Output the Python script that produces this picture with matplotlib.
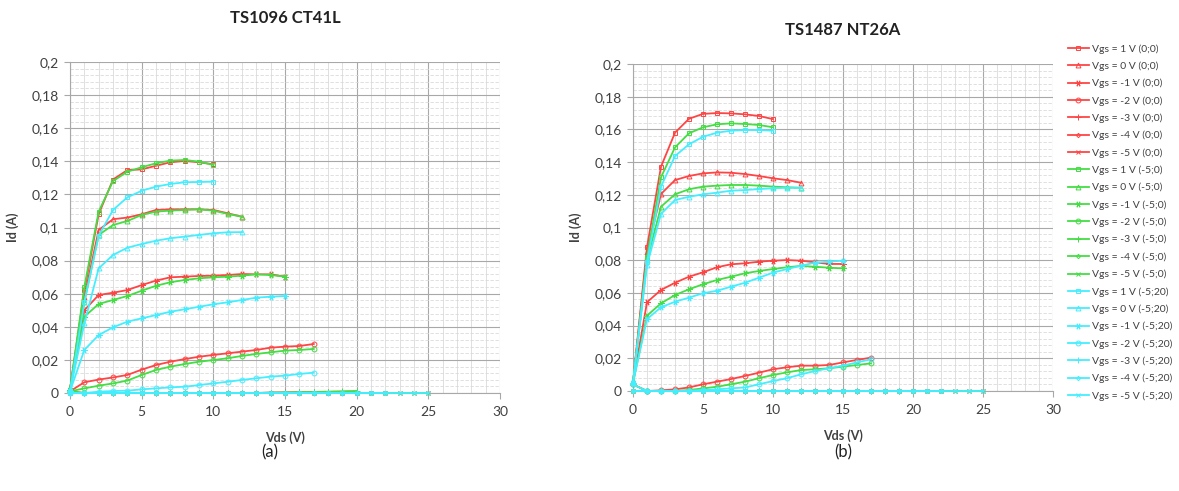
#!/usr/bin/env python3
"""
Output characteristics Id(Vds) of two transistors (TS1096 CT41L, TS1487 NT26A)
for Vgs = 1 .. -5 V under three stress conditions.
"""

import matplotlib
matplotlib.use('Agg')
import matplotlib.pyplot as plt
from matplotlib.ticker import MultipleLocator, FuncFormatter

plt.rcParams['font.family'] = ['Lato', 'DejaVu Sans']

# ---------------------------------------------------------------- data
vgs_values = [1, 0, -1, -2, -3, -4, -5]
conditions = ['(0;0)', '(-5;0)', '(-5;20)']
vds_sweep = [0, 1, 2, 3, 4, 5, 6, 7, 8, 9, 10, 11, 12,
             13, 14, 15, 16, 17, 18, 19, 20, 21, 22, 23, 24, 25]

# channels that stay off: Id reads 0 A over the whole sweep
zero_to_20 = [0, 0, 0, 0, 0, 0, 0, 0, 0, 0, 0, 0, 0, 0, 0, 0, 0, 0, 0, 0, 0]
zero_to_22 = [0, 0, 0, 0, 0, 0, 0, 0, 0, 0, 0, 0, 0, 0, 0, 0, 0, 0, 0, 0, 0,
              0, 0]
zero_to_25 = [0, 0, 0, 0, 0, 0, 0, 0, 0, 0, 0, 0, 0, 0, 0, 0, 0, 0, 0, 0, 0,
              0, 0, 0, 0, 0]

# TS1096 CT41L  (a)
ct41l_red_p1 = [0.002, 0.062, 0.108, 0.129, 0.1347, 0.1351, 0.1373, 0.1394,
                0.1402, 0.1394, 0.1382]
ct41l_red_0 = [0.002, 0.058, 0.0985, 0.105, 0.106, 0.108, 0.1106, 0.111,
               0.111, 0.111, 0.1106, 0.1086, 0.1065]
ct41l_red_m1 = [0.002, 0.050, 0.0592, 0.0606, 0.0622, 0.0652, 0.0679, 0.0699,
                0.0703, 0.0707, 0.0709, 0.0713, 0.0719, 0.0717, 0.0717, 0.0703]
ct41l_red_m2 = [0.001, 0.0065, 0.0081, 0.0094, 0.0109, 0.0141, 0.0169, 0.0189,
                0.0205, 0.0219, 0.023, 0.024, 0.025, 0.026, 0.0274, 0.028,
                0.0284, 0.0296]
ct41l_red_m3 = [0.001, 0, 0, 0, 0, 0, 0, 0, 0, 0, 0, 0, 0, 0, 0.0003, 0.0004,
                0.0005, 0.0006, 0.0007, 0.0008, 0.0009]

ct41l_grn_p1 = [0.002, 0.064, 0.1096, 0.128, 0.1337, 0.1364, 0.1388, 0.1404,
                0.1408, 0.1398, 0.1378]
ct41l_grn_0 = [0.002, 0.055, 0.0955, 0.1015, 0.1039, 0.1076, 0.1096, 0.1102,
               0.1106, 0.111, 0.1102, 0.1082, 0.1065]
ct41l_grn_m1 = [0.002, 0.0461, 0.0538, 0.0562, 0.0586, 0.0618, 0.0648, 0.0669,
                0.0683, 0.0693, 0.0699, 0.0703, 0.0709, 0.0717, 0.0713, 0.0703]
ct41l_grn_m2 = [0.001, 0.0028, 0.0044, 0.0058, 0.0075, 0.0109, 0.0139, 0.0159,
                0.0175, 0.0189, 0.0199, 0.021, 0.0224, 0.0236, 0.0246, 0.0256,
                0.026, 0.0266]
ct41l_grn_m3 = [0.001, 0, 0, 0, 0, 0, 0, 0, 0, 0, 0, 0, 0, 0, 0.0002, 0.0003,
                0.0005, 0.0006, 0.0008, 0.001, 0.0012]

ct41l_cyn_p1 = [0.001, 0.055, 0.095, 0.1106, 0.1182, 0.1222, 0.1247, 0.1263,
                0.1273, 0.1275, 0.1277]
ct41l_cyn_0 = [0.001, 0.042, 0.0753, 0.0834, 0.0878, 0.090, 0.092, 0.0935,
               0.0945, 0.0955, 0.0965, 0.0971, 0.0972]
ct41l_cyn_m1 = [0.001, 0.026, 0.035, 0.0397, 0.0431, 0.0451, 0.0471, 0.0491,
                0.0506, 0.0521, 0.0536, 0.0548, 0.0562, 0.0576, 0.0582, 0.0586]
ct41l_cyn_m2 = [0.0, 0.0, 0.0008, 0.0012, 0.0014, 0.0022, 0.0028, 0.0034,
                0.0038, 0.0048, 0.0058, 0.0068, 0.0079, 0.0089, 0.0099, 0.0105,
                0.0115, 0.0123]

# TS1487 NT26A  (b)
nt26a_red_p1 = [0.005, 0.088, 0.1372, 0.158, 0.1665, 0.1695, 0.1700, 0.1698,
                0.1692, 0.1682, 0.1663]
nt26a_red_0 = [0.005, 0.085, 0.1205, 0.129, 0.1315, 0.1331, 0.1337, 0.1335,
               0.1327, 0.1315, 0.1301, 0.129, 0.1274]
nt26a_red_m1 = [0.005, 0.0543, 0.0618, 0.0662, 0.0699, 0.0726, 0.0757, 0.0775,
                0.0781, 0.0791, 0.0797, 0.0801, 0.0797, 0.0787, 0.0777, 0.0777]
nt26a_red_m2 = [0.004, 0.0, 0.0004, 0.001, 0.0022, 0.0041, 0.0057, 0.0073,
                0.0092, 0.0112, 0.0133, 0.0145, 0.0155, 0.0155, 0.0159, 0.0175,
                0.019, 0.0204]

nt26a_grn_p1 = [0.005, 0.082, 0.1307, 0.149, 0.1576, 0.1613, 0.1631, 0.1637,
                0.1633, 0.1627, 0.1613]
nt26a_grn_0 = [0.005, 0.080, 0.1127, 0.1203, 0.1234, 0.125, 0.1256, 0.126,
               0.126, 0.1256, 0.125, 0.1246, 0.1243]
nt26a_grn_m1 = [0.005, 0.0461, 0.0536, 0.0587, 0.0622, 0.0653, 0.0679, 0.0699,
                0.072, 0.0734, 0.0746, 0.0757, 0.0765, 0.076, 0.0754, 0.075]
nt26a_grn_m2 = [0.004, 0.0, 0.0, 0.0, 0.0006, 0.0016, 0.0026, 0.0041, 0.0057,
                0.0078, 0.0098, 0.0114, 0.0128, 0.0133, 0.0139, 0.0149, 0.0159,
                0.0169]

nt26a_cyn_p1 = [0.005, 0.079, 0.125, 0.1437, 0.1509, 0.1555, 0.158, 0.1592,
                0.1596, 0.1596, 0.1592]
nt26a_cyn_0 = [0.005, 0.077, 0.1083, 0.1168, 0.1188, 0.1203, 0.1213, 0.1225,
               0.1229, 0.1235, 0.124, 0.1243, 0.1243]
nt26a_cyn_m1 = [0.005, 0.044, 0.0512, 0.0546, 0.0571, 0.0598, 0.0613, 0.0638,
                0.0662, 0.0693, 0.0724, 0.0746, 0.0766, 0.0785, 0.0791, 0.0797]
nt26a_cyn_m2 = [0.004, 0.0, 0.0, 0.0, 0.0002, 0.0006, 0.001, 0.0016, 0.0022,
                0.0041, 0.0061, 0.0078, 0.0102, 0.0122, 0.0139, 0.0155, 0.0175,
                0.0194]

# series in legend order: condition by condition, Vgs = 1 .. -5
ct41l_series = [
    ct41l_red_p1, ct41l_red_0, ct41l_red_m1, ct41l_red_m2, ct41l_red_m3,
    zero_to_22, zero_to_25,
    ct41l_grn_p1, ct41l_grn_0, ct41l_grn_m1, ct41l_grn_m2, ct41l_grn_m3,
    zero_to_22, zero_to_25,
    ct41l_cyn_p1, ct41l_cyn_0, ct41l_cyn_m1, ct41l_cyn_m2, zero_to_20,
    zero_to_22, zero_to_25,
]
nt26a_series = [
    nt26a_red_p1, nt26a_red_0, nt26a_red_m1, nt26a_red_m2, zero_to_20,
    zero_to_22, zero_to_25,
    nt26a_grn_p1, nt26a_grn_0, nt26a_grn_m1, nt26a_grn_m2, zero_to_20,
    zero_to_22, zero_to_25,
    nt26a_cyn_p1, nt26a_cyn_0, nt26a_cyn_m1, nt26a_cyn_m2, zero_to_20,
    zero_to_22, zero_to_25,
]

# ---------------------------------------------------------------- style
cond_colors = ['#ff4444', '#44dd44', '#44eeff']
vgs_markers = ['s', '^', (6, 2, 90), 'o', '+', 'D', 'x']
marker_sizes = [3.5, 3.5, 4.5, 3.5, 4.5, 2.2, 3.5]
text_col = '#404040'


def comma_fmt(v, pos):
    return f"{round(v, 3):g}".replace('.', ',')


def setup_axes(ax):
    ax.set_xlim(0, 30)
    ax.set_ylim(0, 0.2)
    ax.xaxis.set_major_locator(MultipleLocator(5))
    ax.xaxis.set_minor_locator(MultipleLocator(1))
    ax.yaxis.set_major_locator(MultipleLocator(0.02))
    ax.yaxis.set_minor_locator(MultipleLocator(0.004))
    ax.yaxis.set_major_formatter(FuncFormatter(comma_fmt))
    ax.grid(which='major', color='#a8a8a8', lw=0.8)
    ax.xaxis.grid(which='minor', color='#dadada', lw=0.6)
    ax.yaxis.grid(which='minor', color='#dadada', lw=0.6, ls=(0, (4, 2)))
    ax.set_axisbelow(True)
    for side in ['top', 'right']:
        ax.spines[side].set_visible(False)
    for side in ['left', 'bottom']:
        ax.spines[side].set_color('#a8a8a8')
        ax.spines[side].set_linewidth(0.8)
    ax.tick_params(which='major', length=4, color='#a8a8a8',
                   labelsize=10, labelcolor=text_col)
    ax.tick_params(axis='x', which='major', pad=5)
    ax.tick_params(axis='y', which='major', pad=4)
    ax.tick_params(which='minor', length=0)
    ax.set_xlabel('Vds (V)', fontsize=9, fontweight='bold', color=text_col,
                  labelpad=10)
    ax.set_ylabel('Id (A)', fontsize=9, fontweight='bold', color=text_col,
                  labelpad=9)


def draw_family(ax, series):
    handles = []
    for i, ids in enumerate(series):
        ci, vi = divmod(i, len(vgs_values))
        label = f"Vgs = {vgs_values[vi]} V {conditions[ci]}"
        h, = ax.plot(vds_sweep[:len(ids)], ids, color=cond_colors[ci],
                     lw=1.3, marker=vgs_markers[vi], ms=marker_sizes[vi],
                     mfc='none', mew=0.7, label=label, clip_on=False,
                     zorder=3 + ci)
        handles.append(h)
    return handles


fig = plt.figure(figsize=(11.79, 4.91), dpi=100)
ax_a = fig.add_axes([70 / 1179, 1 - 393 / 491, 430 / 1179, 331 / 491])
ax_b = fig.add_axes([633 / 1179, 1 - 391 / 491, 420 / 1179, 327 / 491])

setup_axes(ax_a)
setup_axes(ax_b)
handles = draw_family(ax_a, ct41l_series)
draw_family(ax_b, nt26a_series)

fig.text(285 / 1179, 1 - 18 / 491, 'TS1096 CT41L', ha='center', va='center',
         fontsize=12, fontweight='bold', color='#222222')
fig.text(843 / 1179, 1 - 30 / 491, 'TS1487 NT26A', ha='center', va='center',
         fontsize=12, fontweight='bold', color='#222222')
fig.text(270 / 1179, 1 - 452 / 491, '(a)', ha='center', va='center',
         fontsize=12, color='#222222')
fig.text(843 / 1179, 1 - 452 / 491, '(b)', ha='center', va='center',
         fontsize=12, color='#222222')

fig.legend(handles=handles, loc='upper left',
           bbox_to_anchor=(1068 / 1179, 1 - 44 / 491),
           frameon=False, fontsize=7.5, labelcolor=text_col,
           handlelength=2.0, handletextpad=0.3, labelspacing=0.75,
           borderpad=0, borderaxespad=0)

fig.savefig('out.png', dpi=100)
